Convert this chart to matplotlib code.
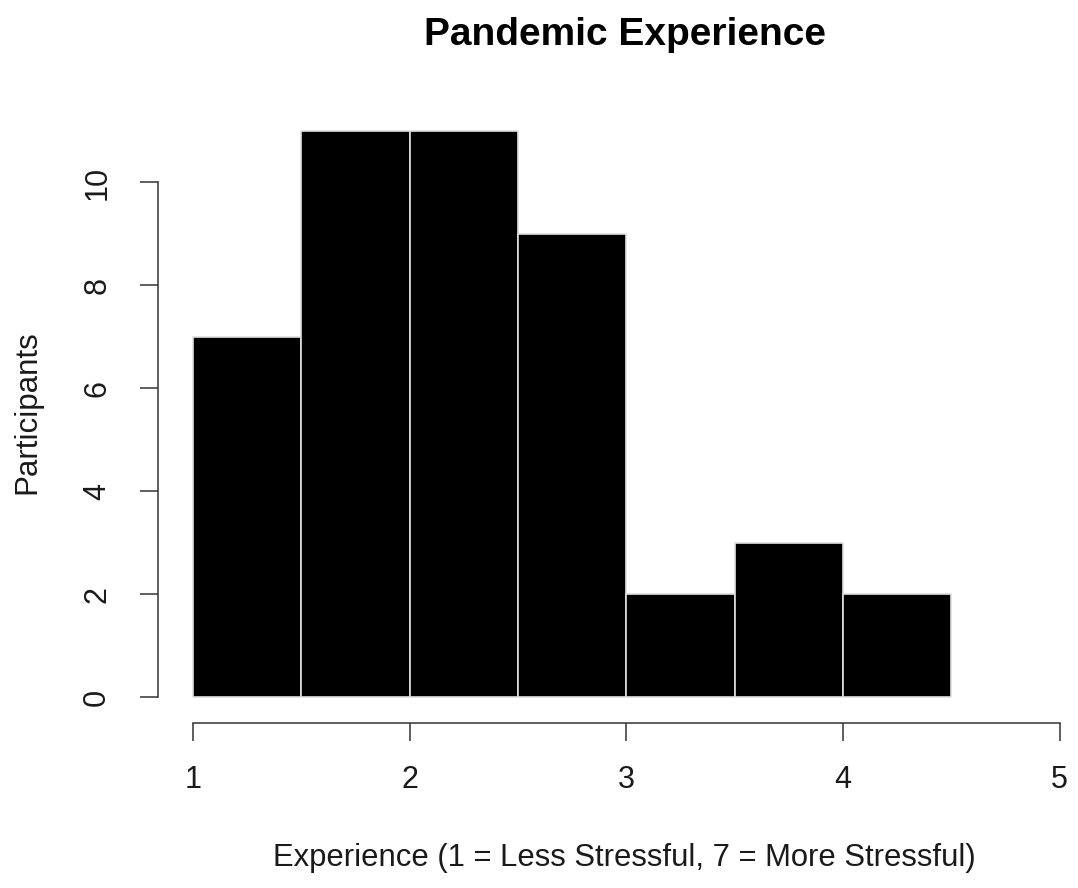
import matplotlib
matplotlib.use("Agg")
import matplotlib.pyplot as plt
import numpy as np

plt.rcParams['font.family'] = ['Liberation Sans', 'DejaVu Sans']

bin_edges = [1.0, 1.5, 2.0, 2.5, 3.0, 3.5, 4.0, 4.5]
counts = [7, 11, 11, 9, 2, 3, 2]
x_ticks = [1, 2, 3, 4, 5]
y_ticks = [0, 2, 4, 6, 8, 10]
title = "Pandemic Experience"
xlabel = "Experience (1 = Less Stressful, 7 = More Stressful)"
ylabel = "Participants"

W, H = 1078, 888
fig = plt.figure(figsize=(W / 100, H / 100), dpi=100)

# axes placement in pixels
left_px, right_px, top_px, bottom_px = 158, 1078, 108.4, 723
ax = fig.add_axes([left_px / W, (H - bottom_px) / H,
                   (right_px - left_px) / W, (bottom_px - top_px) / H])

ppu_x = 216.67
x0 = 1 - (193 - left_px) / ppu_x
ax.set_xlim(x0, x0 + (right_px - left_px) / ppu_x)
ppu_y = 51.45
y0 = -(bottom_px - 697) / ppu_y
ax.set_ylim(y0, y0 + (bottom_px - top_px) / ppu_y)

edges = np.array(bin_edges)
ax.bar(edges[:-1], counts, width=np.diff(edges), align='edge',
       color='black', edgecolor='#e0e0e0', linewidth=1.2)

for s in ['top', 'right']:
    ax.spines[s].set_visible(False)
ax.spines['left'].set_bounds(0, 10)
ax.spines['bottom'].set_bounds(1, 5)
for s in ['left', 'bottom']:
    ax.spines[s].set_linewidth(1.1)
    ax.spines[s].set_color('#333333')

ax.set_xticks(x_ticks)
ax.set_yticks(y_ticks)
ax.set_yticklabels([str(v) for v in y_ticks], rotation=90, va='center')
ax.tick_params(axis='both', length=13, width=1.1, color='#333333',
               labelsize=22, labelcolor='#1a1a1a')
ax.tick_params(axis='x', pad=17)
ax.tick_params(axis='y', pad=20)

fig.text(625 / W, 1 - 35 / H, title, ha='center', va='center',
         fontsize=28, fontweight='bold')
fig.text(624 / W, 1 - 858 / H, xlabel, ha='center', va='center',
         fontsize=22.3, color='#1a1a1a')
fig.text(27 / W, 1 - 412 / H, ylabel, ha='center', va='center',
         fontsize=22.5, rotation=90, color='#1a1a1a')

fig.savefig("out.png", dpi=100)
